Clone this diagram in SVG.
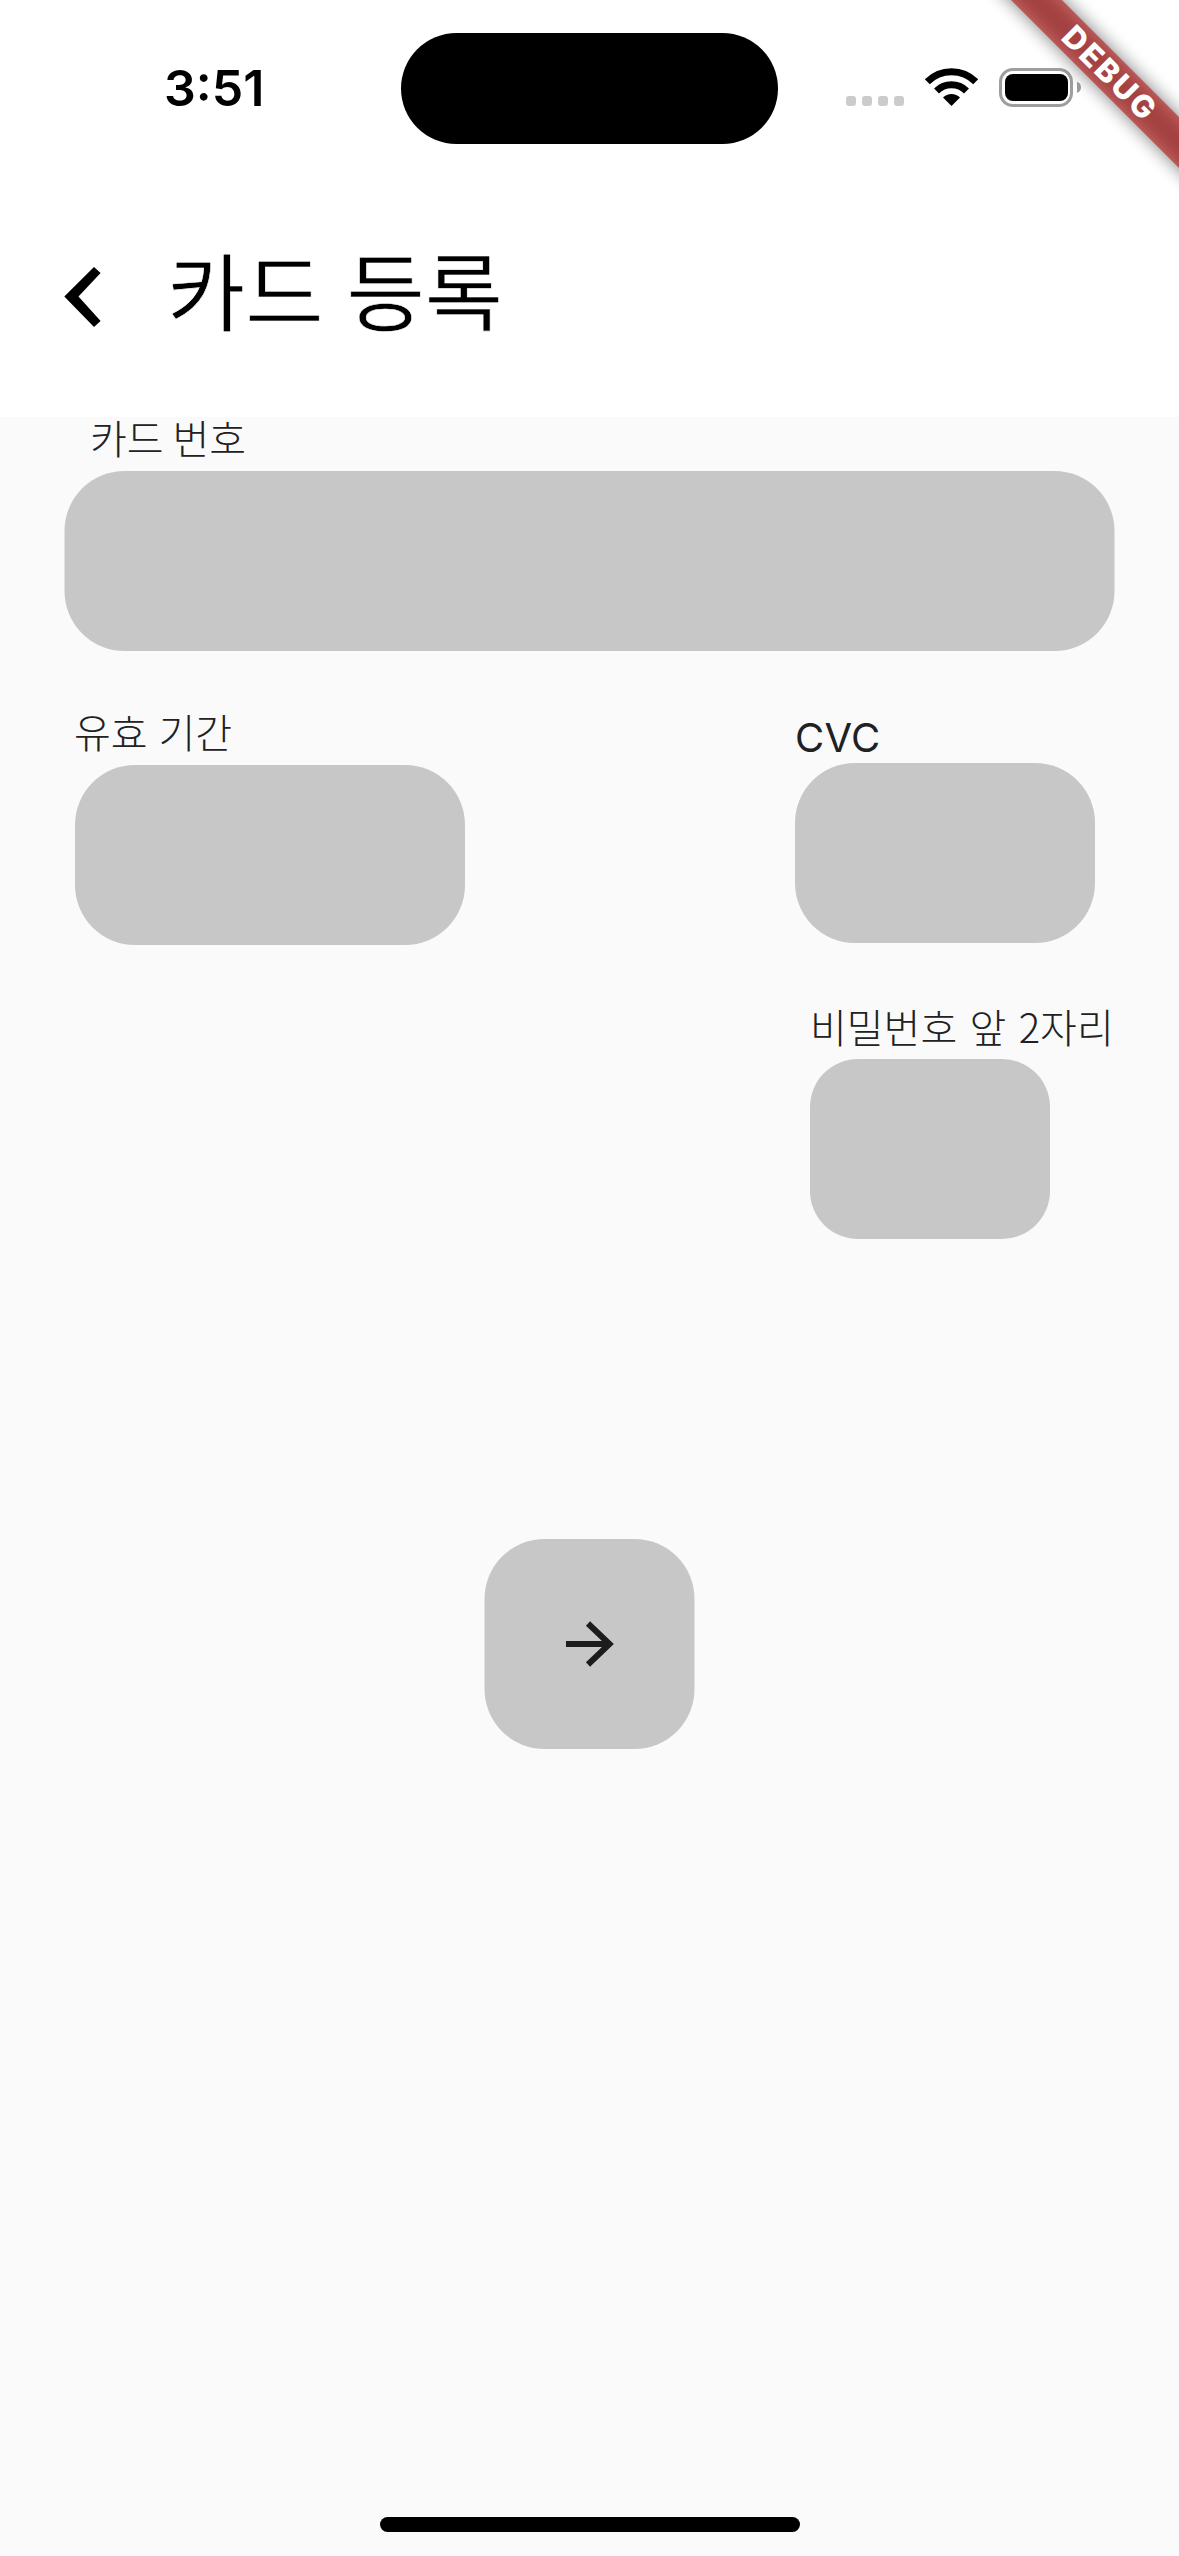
<svg xmlns="http://www.w3.org/2000/svg" width="1179" height="2556" viewBox="0 0 1179 2556">
<style>
.field{fill:#c7c7c7}
.kr{font-family:"Noto Sans CJK KR","Noto Sans",sans-serif}
.label{font-size:40px;fill:#212121;font-weight:300}
.title{font-size:85px;fill:#000;font-weight:400;stroke:#fff;stroke-width:.6px}
</style>
<defs>
<filter id="soft" x="-20%" y="-100%" width="140%" height="300%"><feGaussianBlur stdDeviation="9"/></filter>
</defs>
<rect id="background" width="1179" height="2556" fill="#fafafa"/>
<rect id="header-bg" width="1179" height="417" fill="#fff"/>
<g id="status-bar">
<text x="164" y="106" font-family="Inter,sans-serif" font-weight="600" font-size="50" fill="#000">3:51</text>
<rect id="notch" x="401" y="33" width="377" height="111" rx="55.5" fill="#000"/>
<g fill="#ccc"><rect x="846" y="96" width="10" height="10" rx="3"/><rect x="862" y="96" width="10" height="10" rx="3"/><rect x="878" y="96" width="10" height="10" rx="3"/><rect x="894" y="96" width="10" height="10" rx="3"/></g>
<g id="wifi"><path d="M927.3 81.8A34.200 34.200 0 0 1 975.700 81.8M936.500 91A21.200 21.200 0 0 1 966.500 91" fill="none" stroke="#000" stroke-width="7"/><path d="M951.500 106L943 97.500A12 12 0 0 1 960 97.500Z" fill="#000"/></g>
<g id="battery"><rect x="1000.500" y="69.500" width="71" height="36" rx="12.500" fill="none" stroke="#9e9e9e" stroke-width="3"/><rect x="1005" y="74" width="63" height="27" rx="8" fill="#000"/><path d="M1077 81.700A6 6 0 0 1 1077 93Z" fill="#9e9e9e"/></g>
</g>
<g id="app-bar">
<polygon points="94,267 100.600,273 78.500,296.500 100.600,321 94,327 64.300,296.500" fill="#000"/>
<text class="kr title" x="167" y="325" word-spacing="4">카드 등록</text>
</g>
<g id="card-number"><text class="kr label" x="90" y="454">카드 번호</text><rect class="field" x="64.500" y="471" width="1050" height="180" rx="60"/></g>
<g id="expiry"><text class="kr label" x="74" y="748" word-spacing="2">유효 기간</text><rect class="field" x="75" y="765" width="390" height="180" rx="60"/></g>
<g id="cvc"><text x="795" y="752" font-family="Inter,sans-serif" font-size="40" fill="#212121" letter-spacing=".3">CVC</text><rect class="field" x="795" y="763" width="300" height="180" rx="60"/></g>
<g id="password"><text class="kr label" x="810" y="1043" word-spacing="3.500">비밀번호 앞 2자리</text><rect class="field" x="810" y="1059" width="240" height="180" rx="48"/></g>
<g id="next-button"><rect class="field" x="484.500" y="1539" width="210" height="210" rx="60"/><path d="M566 1644H611M588 1623.500L609.500 1644L588 1664.500" fill="none" stroke="#1c1c1c" stroke-width="6"/></g>
<rect id="home-indicator" x="380" y="2517" width="420" height="15" rx="7.500" fill="#000"/>
<g id="debug-banner" transform="translate(1036.500 0) rotate(45)">
<rect x="-200" y="-18" width="800" height="36" fill="#000" fill-opacity=".5" filter="url(#soft)"/>
<rect x="-200" y="-18" width="800" height="36" fill="#b71c1c" fill-opacity=".63"/>
<text x="104" y="11" text-anchor="middle" font-family="Inter,sans-serif" font-weight="800" font-size="31" letter-spacing="2.500" fill="#fff">DEBUG</text>
</g>
</svg>
